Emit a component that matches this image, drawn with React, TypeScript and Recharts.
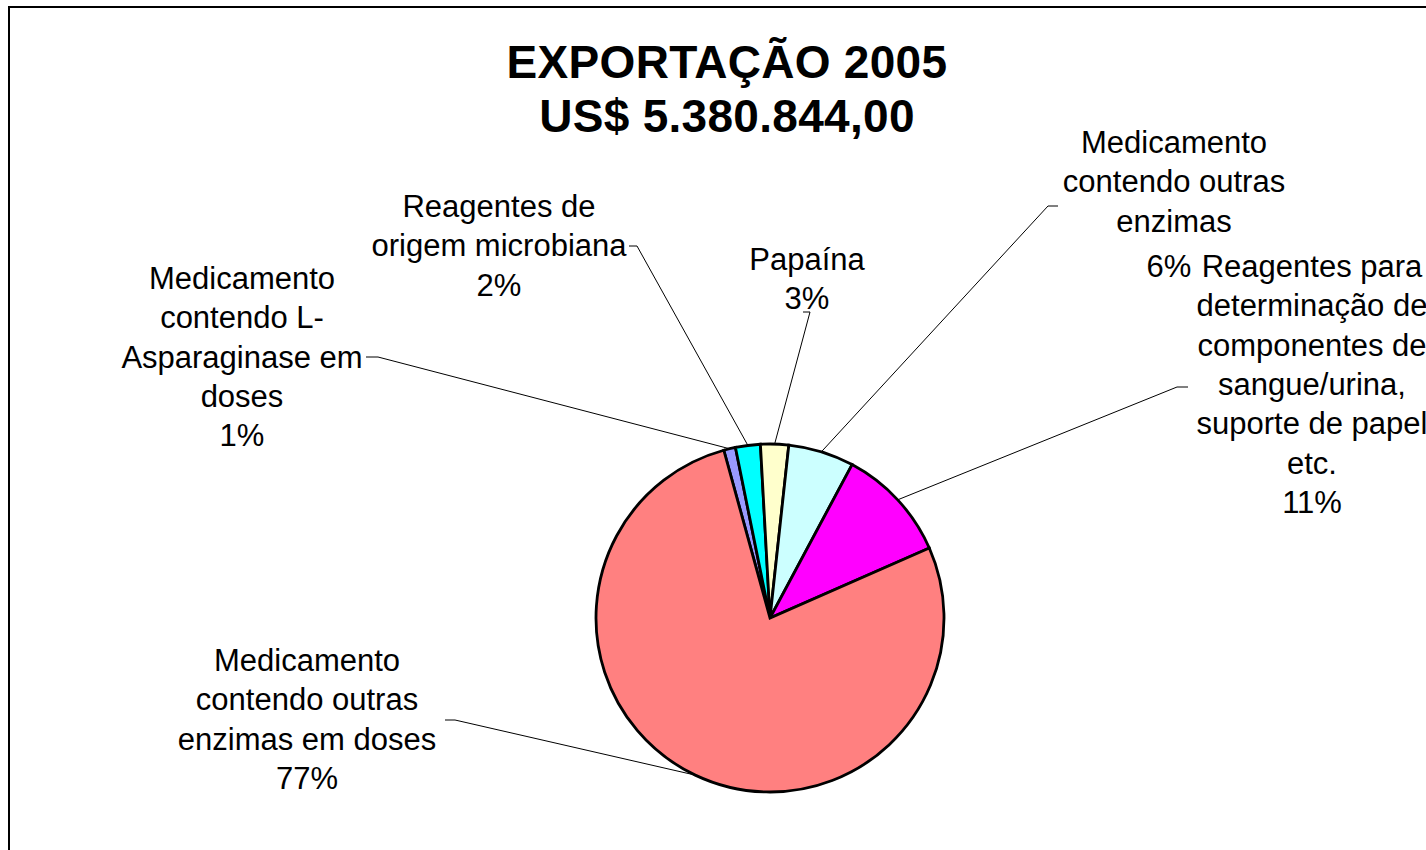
import { PieChart, Pie, Cell } from 'recharts'

// export value per product group, US$ (total 5.380.844,00)
const categories = [
  'Medicamento contendo L-Asparaginase em doses',
  'Reagentes de origem microbiana',
  'Papaína',
  'Medicamento contendo outras enzimas',
  'Reagentes para determinação de componentes de sangue/urina, suporte de papel etc.',
  'Medicamento contendo outras enzimas em doses',
]
const values = [59000, 124000, 140000, 328000, 570000, 4159844]
const colors = ['#9999FF', '#00FFFF', '#FFFFCC', '#CCFFFF', '#FF00FF', '#FF8080']

// label text as wrapped in the original chart
const labelLines = [
  ['Medicamento', 'contendo L-', 'Asparaginase em', 'doses'],
  ['Reagentes de', 'origem microbiana'],
  ['Papaína'],
  ['Medicamento', 'contendo outras', 'enzimas'],
  ['Reagentes para', 'determinação de', 'componentes de', 'sangue/urina,', 'suporte de papel', 'etc.'],
  ['Medicamento', 'contendo outras', 'enzimas em doses'],
]

const titleLines = ['EXPORTAÇÃO 2005', 'US$ 5.380.844,00']

const data = categories.map((name, i) => ({ name, value: values[i] }))

// where each label box sits and where its leader line bends (svg coords)
const labelLayout = [
  { x: 232, y: 281, elbow: [368, 349], tick: [356, 349], pctDx: 0, pctDy: 0 },
  { x: 489, y: 209, elbow: [627, 238], tick: [619, 238], pctDx: 0, pctDy: 0 },
  { x: 797, y: 262, elbow: [800, 304], tick: [793, 304], pctDx: 0, pctDy: 0 },
  { x: 1164, y: 145, elbow: [1038, 198], tick: [1048, 198], pctDx: -5, pctDy: 6 },
  { x: 1302, y: 269, elbow: [1167, 379], tick: [1178, 379], pctDx: 0, pctDy: 0 },
  { x: 297, y: 663, elbow: [445, 712], tick: [435, 712], pctDx: 0, pctDy: 0 },
]

const LINE = 39.3
const RAD = Math.PI / 180
const FONT = "'Liberation Sans', Arial, sans-serif"

function renderLabel(props: any) {
  const { cx, cy, midAngle, outerRadius, percent, index } = props
  const l = labelLayout[index]
  const rx = cx + outerRadius * Math.cos(-midAngle * RAD)
  const ry = cy + outerRadius * Math.sin(-midAngle * RAD)
  const lines = [...labelLines[index], `${Math.round(percent * 100)}%`]
  return (
    <g key={`lbl-${index}`}>
      <polyline
        points={`${rx},${ry} ${l.elbow[0]},${l.elbow[1]} ${l.tick[0]},${l.tick[1]}`}
        fill='none'
        stroke='#000'
        strokeWidth={1}
      />
      <text textAnchor='middle' fontFamily={FONT} fontSize={31} fill='#000'>
        {lines.map((s, i) => {
          const last = i === lines.length - 1
          return (
            <tspan
              key={i}
              x={l.x + (last ? l.pctDx : 0)}
              y={l.y + i * LINE + (last ? l.pctDy : 0)}
            >
              {s}
            </tspan>
          )
        })}
      </text>
    </g>
  )
}

export default function App() {
  return (
    <div
      style={{
        position: 'absolute',
        left: 8,
        top: 6,
        width: 1418,
        height: 844,
        boxSizing: 'border-box',
        borderLeft: '2px solid #000',
        borderTop: '2px solid #000',
        overflow: 'hidden',
        background: '#fff',
      }}
    >
      <div
        style={{
          position: 'absolute',
          left: 417,
          top: 27,
          width: 600,
          textAlign: 'center',
          fontFamily: FONT,
          fontWeight: 'bold',
          fontSize: 46,
          letterSpacing: 0.3,
          lineHeight: '54px',
          color: '#000',
        }}
      >
        {titleLines.map((t) => (
          <div key={t}>{t}</div>
        ))}
      </div>
      <PieChart width={1416} height={842} margin={{ top: 0, right: 0, bottom: 0, left: 0 }}>
        <Pie
          data={data}
          dataKey='value'
          nameKey='name'
          cx={760}
          cy={610}
          outerRadius={174}
          startAngle={105.4}
          endAngle={-254.6}
          stroke='#000'
          strokeWidth={2.8}
          label={renderLabel}
          labelLine={false}
          isAnimationActive={false}
        >
          {data.map((d, i) => (
            <Cell key={d.name} fill={colors[i]} />
          ))}
        </Pie>
      </PieChart>
    </div>
  )
}
